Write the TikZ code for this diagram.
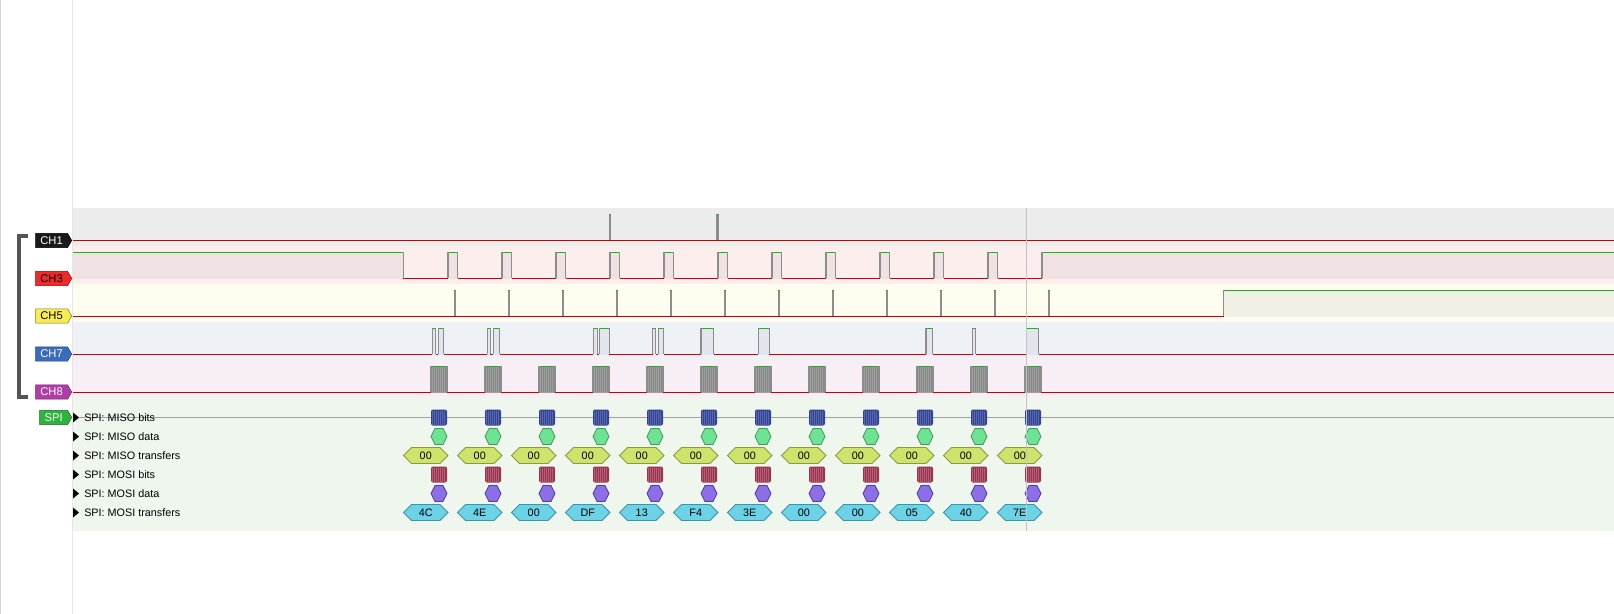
\documentclass[tikz,border=0pt]{standalone}
\usepackage{fontspec}
\setmainfont{Liberation Sans}
\usetikzlibrary{shapes.symbols}
\definecolor{bandch1}{HTML}{ECECEC}
\definecolor{bandch3}{HTML}{FDEEEE}
\definecolor{bandch5}{HTML}{FFFCF0}
\definecolor{bandch7}{HTML}{EEF1F6}
\definecolor{bandch8}{HTML}{F7EEF6}
\definecolor{bandspi}{HTML}{EEF6EE}
\definecolor{hich3}{HTML}{F0E2E2}
\definecolor{hich5}{HTML}{F2EFE4}
\definecolor{hich7}{HTML}{E2E6EC}
\definecolor{lowred}{HTML}{CC0000}
\definecolor{higreen}{HTML}{11BB11}
\definecolor{edgegray}{HTML}{8C8C8C}
\definecolor{burstgray}{HTML}{9E9E9E}
\definecolor{burststripe}{HTML}{888888}
\definecolor{panelgray}{HTML}{D4D4D4}
\definecolor{sepgray}{HTML}{E6E6E6}
\definecolor{rowgray}{HTML}{A0A0A0}
\definecolor{cursorgray}{HTML}{C4C4C4}
\definecolor{bracketgray}{HTML}{555555}
\definecolor{misobit}{HTML}{36458E}
\definecolor{misostripe}{HTML}{5566B4}
\definecolor{mosibit}{HTML}{963650}
\definecolor{mosistripe}{HTML}{BA5C76}
\definecolor{misodatfill}{HTML}{6EE394}
\definecolor{misodatline}{HTML}{3C9A5C}
\definecolor{misotrfill}{HTML}{CDE36C}
\definecolor{misotrline}{HTML}{8C9A3C}
\definecolor{mosidatfill}{HTML}{8C6EE6}
\definecolor{mosidatline}{HTML}{4C3CA0}
\definecolor{mositrfill}{HTML}{6CD2E6}
\definecolor{mositrline}{HTML}{3C94A8}
\definecolor{tagch1}{HTML}{1A1A1A}
\definecolor{tagch3}{HTML}{EE2A2A}
\definecolor{tagch5}{HTML}{F8EC50}
\definecolor{tagch7}{HTML}{3A6CBC}
\definecolor{tagch8}{HTML}{B03CA8}
\definecolor{tagspi}{HTML}{2CB43C}
\begin{document}
\begin{tikzpicture}[x=0.75pt,y=-0.75pt,
  redline/.style={draw=lowred, line width=0.75pt},
  hiline/.style={draw=higreen, line width=0.75pt},
  edge/.style={draw=edgegray, line width=0.9pt},
  chtag/.style={shape=signal, signal to=east, signal pointer angle=120, draw, minimum height=10.8pt, minimum width=27pt, inner sep=1pt, font=\fontsize{8.4}{9}\selectfont, anchor=east},
  rowlabel/.style={anchor=west, inner sep=0pt, font=\fontsize{8.1}{9}\selectfont},
  hexlabel/.style={inner sep=0pt, font=\fontsize{8.1}{9}\selectfont}]
\fill[white] (0,0) rectangle (1614,614);
\useasboundingbox (0,0) rectangle (1614,614);
% panel edges
\draw[draw=panelgray, line width=0.75pt] (0.5,0) -- (0.5,614);
\draw[draw=sepgray, line width=0.75pt] (72.5,0) -- (72.5,614);
% channel bands
\fill[bandch1] (73,208) rectangle (1614,246);
\fill[bandch3] (73,246) rectangle (1614,284);
\fill[bandch5] (73,284) rectangle (1614,322);
\fill[bandch7] (73,322) rectangle (1614,360);
\fill[bandch8] (73,360) rectangle (1614,398);
\fill[bandspi] (73,398) rectangle (1614,531);
\foreach \y in {240,278,316,354,392}
  \draw[redline] (73,\y) -- (1614,\y);
% CH1
\foreach \a/\b in {608.7/611,716/718.7}{
  \fill[edgegray] (\a,214) rectangle (\b,240);
  \draw[hiline] (\a,214) -- (\b,214);
}
% CH3
\fill[hich3] (73,252) rectangle (403.3,278.5);
\draw[hiline] (73,252) -- (403.3,252);
\draw[edge] (403.3,252) -- (403.3,278);
\foreach \i [evaluate=\i as \a using 448+54*\i, evaluate=\i as \b using 457.5+54*\i] in {0,...,10}{
  \fill[hich3] (\a,252) rectangle (\b,278.5);
  \draw[hiline] (\a,252) -- (\b,252);
  \draw[edge] (\a,278) -- (\a,252) (\b,252) -- (\b,278);
}
\fill[hich3] (1042,252) rectangle (1614,278.5);
\draw[hiline] (1042,252) -- (1614,252);
\draw[edge] (1042,278) -- (1042,252);
% CH5
\foreach \i [evaluate=\i as \a using 453.5+54*\i] in {0,...,11}{
  \fill[edgegray] (\a,290) rectangle ({\a+2},316);
  \draw[hiline] (\a,290) -- ({\a+2},290);
}
\fill[hich5] (1223.7,290) rectangle (1614,316.5);
\draw[hiline] (1223.7,290) -- (1614,290);
\draw[edge] (1223.7,316) -- (1223.7,290);
% CH7
\foreach \a/\b in {432.3/435.7,438.3/443.7,487.3/490.3,493.3/499.7,593.3/597.3,599.3/609.3,652.7/655.7,658.3/663.7,701/713.7,758.3/769.3,926/932.7,972.7/975.7,1026.7/1038.7}{
  \fill[hich7] (\a,328) rectangle (\b,354.5);
  \draw[hiline] (\a,328) -- (\b,328);
  \draw[edge] (\a,354) -- (\a,328) (\b,328) -- (\b,354);
}
% CH8
\foreach \i [evaluate=\i as \a using 431+54*\i] in {0,...,11}{
  \fill[burstgray] (\a,366) rectangle ({\a+16},392.5);
  \foreach \s in {2,4,...,14}
    \draw[burststripe, line width=0.3pt] ({\a+\s},366.5) -- ({\a+\s},392);
  \draw[hiline] (\a,366) -- ({\a+16},366);
  \draw[edge] (\a,392) -- (\a,366) ({\a+16},366) -- ({\a+16},392);
}
% SPI rows
\draw[draw=rowgray, line width=0.75pt] (73,417.5) -- (1614,417.5);
\foreach \y/\t/\n in {417.5/MISO bits/misobits,436.5/MISO data/misodata,455.5/MISO transfers/misotr,474.5/MOSI bits/mosibits,493.5/MOSI data/mosidata,512.5/MOSI transfers/mositr}{
  \fill (73,{\y-5}) -- (79,\y) -- (73,{\y+5}) -- cycle;
  \node[rowlabel] (\n) at (84,\y) {SPI: \t};
}
\foreach \i [evaluate=\i as \x using 431+54*\i] in {0,...,11}{
  \fill[misobit, rounded corners=1.5pt] (\x,409.5) rectangle ({\x+16},425.5);
  \fill[mosibit, rounded corners=1.5pt] (\x,466.5) rectangle ({\x+16},482.5);
  \foreach \s in {1.5,3.5,...,15}{
    \draw[misostripe, line width=0.3pt] ({\x+\s},410.5) -- ({\x+\s},424.5);
    \draw[mosistripe, line width=0.3pt] ({\x+\s},467.5) -- ({\x+\s},481.5);
  }
  \filldraw[fill=misodatfill, draw=misodatline, line width=0.6pt] (\x,436.5) -- ({\x+4},428.5) -- ({\x+12},428.5) -- ({\x+16},436.5) -- ({\x+12},444.5) -- ({\x+4},444.5) -- cycle;
  \filldraw[fill=mosidatfill, draw=mosidatline, line width=0.6pt] (\x,493.5) -- ({\x+4},485.5) -- ({\x+12},485.5) -- ({\x+16},493.5) -- ({\x+12},501.5) -- ({\x+4},501.5) -- cycle;
  \filldraw[fill=misotrfill, draw=misotrline, line width=0.6pt] ({\x-27.5},455.5) -- ({\x-19.5},447.5) -- ({\x+9},447.5) -- ({\x+17},455.5) -- ({\x+9},463.5) -- ({\x-19.5},463.5) -- cycle;
  \node[hexlabel] (mi\i) at ({\x-5.25},455.5) {00};
}
\foreach \v [count=\i from 0] in {4C,4E,00,DF,13,F4,3E,00,00,05,40,7E}{
  \pgfmathsetmacro\x{431+54*\i}
  \filldraw[fill=mositrfill, draw=mositrline, line width=0.6pt] ({\x-27.5},512.5) -- ({\x-19.5},504.5) -- ({\x+9},504.5) -- ({\x+17},512.5) -- ({\x+9},520.5) -- ({\x-19.5},520.5) -- cycle;
  \node[hexlabel] (mo\i) at ({\x-5.25},512.5) {\v};
}
% cursor
\draw[draw=cursorgray, line width=0.75pt] (1026.7,208) -- (1026.7,531);
% group bracket and tags
\draw[draw=bracketgray, line width=3pt] (28,236) -- (19,236) -- (19,397) -- (28,397);
\node[chtag, fill=tagch1, draw=black, text=white] (ch1) at (72,240.5) {CH1};
\node[chtag, fill=tagch3, draw=lowred!80!black, text=black] (ch3) at (72,278.5) {CH3};
\node[chtag, fill=tagch5, draw=tagch5!50!black, text=black] (ch5) at (72,316) {CH5};
\node[chtag, fill=tagch7, draw=tagch7!60!black, text=white] (ch7) at (72,354) {CH7};
\node[chtag, fill=tagch8, draw=tagch8!60!black, text=white] (ch8) at (72,392) {CH8};
\node[chtag, fill=tagspi, draw=tagspi!60!black, text=white, minimum width=24pt] (spi) at (72,417.5) {SPI};
\end{tikzpicture}
\end{document}
